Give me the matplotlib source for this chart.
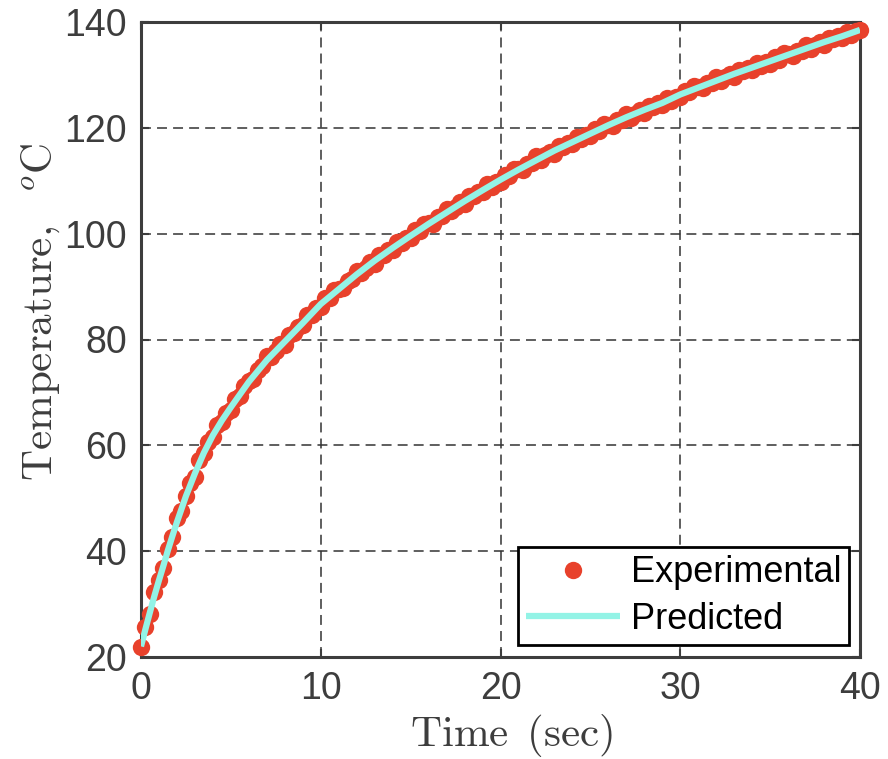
import numpy as np
import matplotlib
matplotlib.use("Agg")
import matplotlib.pyplot as plt

# ---------------- data ----------------
exp_step = 0.25  # sampling interval of experimental data (s)
exp_temp = [
    21.9, 25.7, 28.2, 32.2, 34.6, 36.8, 40.4, 42.7, 46.2, 47.6,
    50.4, 52.9, 54.1, 57.2, 58.5, 60.6, 61.5, 63.9, 64.4, 66.1,
    66.7, 68.8, 69.3, 71.3, 72.1, 72.6, 74.3, 74.9, 76.8, 76.6,
    77.9, 79.1, 79.0, 80.9, 81.2, 82.4, 82.7, 84.6, 84.6, 85.9,
    86.2,
    87.8, 87.8, 89.4, 89.6, 89.7, 91.1, 91.4, 93.0, 92.6, 93.6,
    94.6, 94.3, 96.0, 96.0, 96.9, 96.9, 98.5, 98.2, 99.2, 99.1,
    100.6, 100.5, 101.9, 102.0, 101.9, 103.2, 103.3, 104.7, 104.2, 105.1,
    105.9, 105.6, 107.2, 107.1, 107.9, 107.8, 109.3, 108.9, 109.8, 109.7,
    111.1, 110.9, 112.3, 112.2, 112.1, 113.2, 113.3, 114.6, 114.0, 114.8,
    115.5, 115.1, 116.6, 116.4, 117.1, 116.9, 118.3, 117.8, 118.6, 118.4,
    119.7, 119.4, 120.7, 120.6, 120.4, 121.4, 121.4, 122.7, 121.9, 122.7,
    123.3, 122.8, 124.2, 124.0, 124.6, 124.3, 125.7, 125.1, 125.8, 125.8,
    127.0, 126.7, 127.9, 127.7, 127.5, 128.5, 128.4, 129.6, 128.9, 129.6,
    130.2, 129.6, 131.0, 130.7, 131.3, 131.0, 132.3, 131.7, 132.4, 132.1,
    133.3, 132.9, 134.1, 133.9, 133.6, 134.6, 134.5, 135.7, 134.9, 135.6,
    136.2, 135.6, 137.0, 136.7, 137.3, 136.9, 138.2, 137.6, 138.3, 138.4,
]
exp_time = np.arange(len(exp_temp)) * exp_step

pred_time = [0, 0.25, 0.5, 0.75, 1, 1.25, 1.5, 1.75, 2, 2.5, 3, 3.5, 4, 4.5,
             5, 6, 7, 8, 9, 10, 11, 12, 13, 14, 15, 16, 17, 18, 19, 20,
             21, 22, 23, 24, 25, 26, 27, 28, 29, 30, 31, 32, 33, 34, 35,
             36, 37, 38, 39, 40]
pred_temp = [22.0, 25.3, 28.5, 31.6, 34.5, 37.3, 40.2, 42.9, 45.5, 50.4, 54.7, 58.6, 61.9, 64.7,
             67.2, 72.0, 76.1, 79.6, 83.1, 86.7, 89.5, 92.3, 94.9, 97.3, 99.6, 101.85, 104.0, 106.15, 108.2, 110.2,
             112.1, 113.9, 115.7, 117.3, 118.9, 120.5, 122.0, 123.4, 124.7, 126.3, 127.6, 128.9, 130.2, 131.4, 132.6,
             133.8, 135.0, 136.2, 137.3, 138.5]

x_ticks = [0, 10, 20, 30, 40]
y_ticks = [20, 40, 60, 80, 100, 120, 140]

# ---------------- style ----------------
plt.rcParams["mathtext.fontset"] = "cm"
plt.rcParams["font.family"] = ["Liberation Sans", "DejaVu Sans"]

RED = "#E8412B"
CYAN = "#93F3E6"
DARK = "#3d3d3d"

fig = plt.figure(figsize=(8.88, 7.59), dpi=100)
ax = fig.add_axes([141 / 888, 1 - 657 / 759, (860 - 141) / 888, (657 - 22) / 759])

ax.plot(exp_time, exp_temp, "o", ms=12.5, color=RED, mec="none",
        label="Experimental", zorder=3, clip_on=False)
ax.plot(pred_time, pred_temp, "-", lw=4.5, color=CYAN, label="Predicted",
        zorder=4, solid_capstyle="butt")

ax.set_xlim(0, 40)
ax.set_ylim(20, 140)
ax.set_xticks(x_ticks)
ax.set_yticks(y_ticks)

ax.grid(True, color="#333333", lw=1.1, linestyle=(0, (6.5, 4.0)), zorder=0)
ax.set_axisbelow(True)

for s in ax.spines.values():
    s.set_color(DARK)
    s.set_linewidth(2.2)

ax.tick_params(direction="in", length=6, width=1.5, color=DARK,
               labelsize=27, labelcolor=DARK, top=True, right=True, pad=10)

ax.set_xlabel(r"$\mathrm{Time\ \,(sec)}$", fontsize=31, color=DARK)
ax.set_ylabel(r"$\mathrm{Temperature,}\ \ ^o\mathrm{C}$", fontsize=31, color=DARK)
ax.xaxis.set_label_coords(0.515, -0.087)
ax.yaxis.set_label_coords(-0.110, 0.543)

leg = ax.legend(loc="lower right", bbox_to_anchor=((849 - 141) / 719, (657 - 645) / 635),
                borderaxespad=0, fontsize=26, frameon=True, fancybox=False,
                handlelength=2.6, handletextpad=0.3, labelspacing=0.33,
                borderpad=0.22, markerscale=1.0)
frame = leg.get_frame()
frame.set_edgecolor("black")
frame.set_linewidth(2.0)
frame.set_alpha(1)
leg.set_zorder(10)

fig.savefig("out.png", dpi=100)
